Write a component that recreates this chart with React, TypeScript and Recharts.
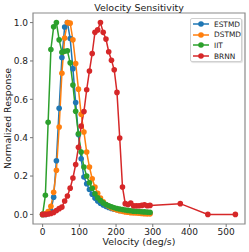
import React from "react";
import { LineChart, Line, XAxis, YAxis, ReferenceArea } from "recharts";

const velocity = [
  0, 7.5, 15, 22.5, 30, 37.5, 45, 52.5, 60, 67.5, 75, 82.5, 90, 97.5, 105, 112.5,
  120, 127.5, 135, 142.5, 150, 157.5, 165, 172.5, 180, 187.5, 195, 202.5, 210,
  217.5, 225, 232.5, 240, 247.5, 255, 262.5, 270, 277.5, 285, 292.5,
];

const estmd = [
  0, 0, 0.005, 0.02, 0.09, 0.28, 0.553, 0.818, 0.977, 1.0, 0.917, 0.76, 0.583,
  0.416, 0.29, 0.195, 0.16, 0.13, 0.105, 0.085, 0.07, 0.058, 0.049, 0.042, 0.036,
  0.031, 0.027, 0.024, 0.021, 0.019, 0.017, 0.015, 0.013, 0.012, 0.011, 0.01,
  0.009, 0.008, 0.007, 0.006,
];

const dstmd = [
  0, 0.003, 0.015, 0.042, 0.115, 0.23, 0.456, 0.736, 0.92, 1.0, 0.997, 0.91,
  0.787, 0.653, 0.522, 0.43, 0.325, 0.247, 0.186, 0.143, 0.11, 0.085, 0.066,
  0.052, 0.042, 0.034, 0.028, 0.023, 0.019, 0.016, 0.013, 0.011, 0.009, 0.008,
  0.007, 0.006, 0.005, 0.004, 0.003, 0.003,
];

const iit = [
  0, 0.1, 0.48, 0.86, 0.978, 1.0, 0.91, 0.845, 0.85, 0.853, 0.79, 0.674, 0.538,
  0.42, 0.325, 0.247, 0.2, 0.165, 0.136, 0.108, 0.087, 0.072, 0.06, 0.052, 0.045,
  0.04, 0.035, 0.031, 0.028, 0.025, 0.023, 0.021, 0.019, 0.017, 0.016, 0.015,
  0.014, 0.013, 0.012, 0.011,
];

const brnnVelocity = [...velocity, 375, 450, 525];

const brnn = [
  0, 0, 0.002, 0.005, 0.01, 0.02, 0.03, 0.038, 0.07, 0.096, 0.137, 0.19, 0.26,
  0.35, 0.46, 0.536, 0.65, 0.748, 0.839, 0.949, 0.962, 1.0, 0.949, 0.914, 0.848,
  0.804, 0.754, 0.636, 0.398, 0.143, 0.056, 0.052, 0.059, 0.045, 0.045, 0.045,
  0.047, 0.05, 0.045, 0.047, 0.056, 0, 0,
];

const xTicks = [0, 100, 200, 300, 400, 500];
const yTicks = [0, 0.2, 0.4, 0.6, 0.8, 1.0];

const toPoints = (xs: number[], ys: number[]) =>
  ys.map((y, i) => ({ x: xs[i], y }));

const series = [
  { name: "ESTMD", color: "#1f77b4", data: toPoints(velocity, estmd) },
  { name: "DSTMD", color: "#ff7f0e", data: toPoints(velocity, dstmd) },
  { name: "IIT", color: "#2ca02c", data: toPoints(velocity, iit) },
  { name: "BRNN", color: "#d62728", data: toPoints(brnnVelocity, brnn) },
];

const FONT = "'DejaVu Sans', sans-serif";
const X_DOMAIN: [number, number] = [-26.25, 551.25];
const Y_DOMAIN: [number, number] = [-0.05, 1.05];

function LegendBox() {
  return (
    <div
      style={{
        position: "absolute",
        left: 190,
        top: 18,
        width: 52,
        height: 44,
        boxSizing: "border-box",
        background: "#fff",
        border: "1px solid #d0d0d0",
        borderRadius: 2,
        boxShadow: "1px 1px 1px rgba(0,0,0,0.12)",
        padding: "0 0 0 1px",
        fontFamily: FONT,
        fontSize: 7.4,
        color: "#222",
      }}
    >
      {series.map((s) => (
        <div
          key={s.name}
          style={{ display: "flex", alignItems: "center", height: 10.6 }}
        >
          <svg width={20} height={8} style={{ flex: "none" }}>
            <line x1={1} y1={4} x2={17} y2={4} stroke={s.color} strokeWidth={1.5} />
            <circle cx={9} cy={4} r={2.8} fill={s.color} />
          </svg>
          <span style={{ marginLeft: 2 }}>{s.name}</span>
        </div>
      ))}
    </div>
  );
}

export default function App() {
  return (
    <div
      style={{
        position: "absolute",
        left: 0,
        top: 0,
        width: 249,
        height: 252,
        background: "#fff",
      }}
    >
      <LineChart
        width={249}
        height={252}
        margin={{ top: 13, right: 4, bottom: 0, left: 0 }}
      >
        <XAxis
          type="number"
          dataKey="x"
          domain={X_DOMAIN}
          ticks={xTicks}
          allowDataOverflow
          height={28}
          axisLine={false}
          tickSize={3}
          tickLine={{ stroke: "#777" }}
          tick={{ fontSize: 9, fill: "#222", fontFamily: FONT }}
        />
        <YAxis
          type="number"
          dataKey="y"
          domain={Y_DOMAIN}
          ticks={yTicks}
          allowDataOverflow
          width={33}
          axisLine={false}
          tickSize={3}
          tickLine={{ stroke: "#777" }}
          tick={{ fontSize: 9, fill: "#222", fontFamily: FONT }}
          tickFormatter={(v: number) => v.toFixed(1)}
        />
        <ReferenceArea
          x1={X_DOMAIN[0]}
          x2={X_DOMAIN[1]}
          y1={Y_DOMAIN[0]}
          y2={Y_DOMAIN[1]}
          fill="none"
          stroke="#8a8a8a"
          strokeWidth={1.2}
        />
        {series.map((s) => (
          <Line
            key={s.name}
            name={s.name}
            data={s.data}
            dataKey="y"
            type="linear"
            stroke={s.color}
            strokeWidth={1.5}
            dot={{ r: 2.8, fill: s.color, stroke: s.color, strokeWidth: 0 }}
            activeDot={false}
            isAnimationActive={false}
          />
        ))}
      </LineChart>
      <LegendBox />
      <svg
        width={249}
        height={252}
        style={{ position: "absolute", left: 0, top: 0, pointerEvents: "none" }}
        fontFamily={FONT}
        fill="#222"
      >
        <text x={139} y={10.5} fontSize={9.5} textAnchor="middle">
          Velocity Sensitivity
        </text>
        <text x={139} y={245} fontSize={9.4} textAnchor="middle">
          Velocity (deg/s)
        </text>
        <text
          x={11}
          y={118.5}
          fontSize={9.4}
          textAnchor="middle"
          transform="rotate(-90 11 118.5)"
        >
          Normalized Response
        </text>
      </svg>
    </div>
  );
}
